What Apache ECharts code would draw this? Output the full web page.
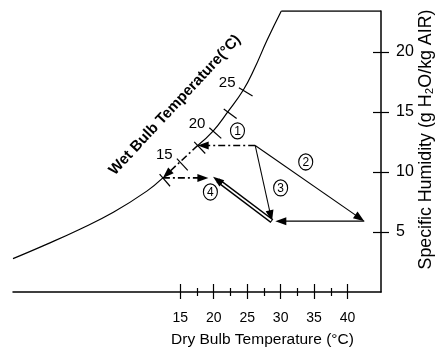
<!DOCTYPE html>
<html><head><meta charset="utf-8">
<script src="https://cdn.jsdelivr.net/npm/echarts@6/dist/echarts.min.js"></script>
<style>html,body{margin:0;padding:0;background:#fff}#c{width:437px;height:347px}</style>
</head><body><div id="c"></div>
<script>
// ---- Saturation curve (dry-bulb °C, specific humidity g/kg)
const satLowT = [-10, -5, 0, 5, 10, 12.4];
const satLowV = [2.78, 3.97, 5.23, 6.64, 8.4, 9.5];
const satMidT = [12.4, 15, 17.6];            // dash-dot part of the curve (process path)
const satMidV = [9.5, 10.8, 12.2];
const satHighT = [17.6, 19.9, 22.1, 24.4, 26, 28, 30.1];
const satHighV = [12.2, 13.4, 15.0, 16.8, 18.5, 21.0, 23.4];
const frameTopT = [30.1, 45];
const frameTopV = [23.4, 23.4];

// ---- Wet-bulb ticks along the curve
const wbTickT = [12.4, 15, 17.6, 19.9, 22.1, 24.4];
const wbTickV = [9.5, 10.8, 12.2, 13.4, 15.0, 16.8];
const wbTickLabels = ['', '15', '', '20', '', '25'];

// ---- Axis ticks
const xMajor = [15, 20, 25, 30, 35, 40];
const xMinor = [17.5, 22.5, 27.5, 32.5, 37.5];
const yMajor = [5, 10, 15, 20];

// ---- Process state points
const ptA = [26.2, 12.2];
const ptF = [17.6, 12.2];
const ptE = [12.4, 9.5];
const ptB = [42.5, 5.9];
const ptC = [28.7, 5.9];
const ptC2 = [29.2, 5.9];
const ptD = [19.9, 9.6];
const ptH = [19.2, 9.5];

const pathFrom  = [ptA, ptA, ptB, ptA, ptC, ptF, ptE];
const pathTo    = [ptF, ptB, ptC2, ptC, ptD, ptE, ptH];
const pathStyle = ['dashdot', 'solid', 'solid', 'solid', 'double', 'dashdot', 'dashdot'];

// ---- Circled step numbers
const stepLabels = ['1', '2', '3', '4'];
const stepT = [23.55, 33.75, 30.0, 19.5];
const stepV = [13.42, 10.83, 8.67, 8.33];

const FONT = 'Liberation Sans, Arial, sans-serif';
const allT = satLowT.concat(satMidT.slice(1), satHighT.slice(1));
const allV = satLowV.concat(satMidV.slice(1), satHighV.slice(1));
function satAt(t) {
  if (t <= allT[0]) return allV[0];
  for (let i = 1; i < allT.length; i++) {
    if (t <= allT[i]) {
      const f = (t - allT[i-1]) / (allT[i] - allT[i-1]);
      return allV[i-1] + f * (allV[i] - allV[i-1]);
    }
  }
  return allV[allV.length - 1];
}
const pairs = (a, b) => a.map((t, i) => [t, b[i]]);

const chart = echarts.init(document.getElementById('c'), null, {renderer: 'canvas'});
const blk = '#000';
const xBase = {type: 'value', min: -10, max: 45, position: 'bottom', splitLine: {show: false},
  axisLine: {show: false, onZero: false}, axisLabel: {show: false}, axisTick: {show: false}};
const yBase = {type: 'value', min: 0, max: 23.4, position: 'right', splitLine: {show: false},
  axisLine: {show: false, onZero: false}, axisLabel: {show: false}, axisTick: {show: false}};
const tickStyle = {color: blk, width: 1.2};

const lineSeries = (data, extra) => Object.assign({
  type: 'line', data: data, showSymbol: false, silent: true, smooth: 0.45,
  lineStyle: {color: blk, width: 1.2}, animation: false
}, extra || {});

chart.setOption({
  animation: false,
  grid: {left: 13, right: 56, top: 11, bottom: 55, containLabel: false, outerBoundsMode: 'none'},
  xAxis: [
    Object.assign({}, xBase, {
      axisLine: {show: true, onZero: false, lineStyle: {color: blk, width: 1.5}},
      axisTick: {show: true, inside: false, length: 7, customValues: xMajor, lineStyle: tickStyle},
      axisLabel: {show: true, customValues: xMajor, margin: 19, color: blk, fontSize: 14, fontFamily: FONT},
      name: 'Dry Bulb Temperature (°C)', nameLocation: 'middle', nameGap: 40,
      nameTextStyle: {color: blk, fontSize: 15.5, fontFamily: FONT, padding: [0, 0, 0, 131]}
    }),
    Object.assign({}, xBase, {axisTick: {show: true, inside: true, length: 8, customValues: xMajor, lineStyle: tickStyle}}),
    Object.assign({}, xBase, {axisTick: {show: true, inside: false, length: 4, customValues: xMinor, lineStyle: tickStyle}}),
    Object.assign({}, xBase, {axisTick: {show: true, inside: true, length: 4, customValues: xMinor, lineStyle: tickStyle}})
  ],
  yAxis: [
    Object.assign({}, yBase, {
      axisLine: {show: true, onZero: false, lineStyle: {color: blk, width: 1.5}},
      axisTick: {show: true, inside: false, length: 8, customValues: yMajor, lineStyle: tickStyle},
      axisLabel: {show: true, customValues: yMajor, margin: 15, color: blk, fontSize: 16, fontFamily: FONT},
      name: 'Specific Humidity (g H\u2082O/kg AIR)', nameLocation: 'middle', nameGap: 36, nameRotate: 90,
      nameMoveOverlap: false,
      nameTextStyle: {color: blk, fontSize: 17.8, fontFamily: FONT, padding: [0, 0, 0, 24]}
    }),
    Object.assign({}, yBase, {axisTick: {show: true, inside: true, length: 8, customValues: yMajor, lineStyle: tickStyle}})
  ],
  series: [
    lineSeries(pairs(satLowT, satLowV)),
    lineSeries(pairs(satHighT, satHighV)),
    lineSeries(pairs(frameTopT, frameTopV), {smooth: false, lineStyle: {color: blk, width: 1.5}}),
    {
      type: 'custom', silent: true, animation: false,
      data: pairs(wbTickT, wbTickV),
      renderItem: function (params, api) {
        const t = api.value(0), v = api.value(1);
        const p = api.coord([t, v]);
        const a = api.coord([t - 0.8, satAt(t - 0.8)]);
        const b = api.coord([t + 0.8, satAt(t + 0.8)]);
        let tx = b[0] - a[0], ty = b[1] - a[1];
        const L = Math.hypot(tx, ty); tx /= L; ty /= L;
        const nx = -ty, ny = tx;
        const ch = [{type: 'line', shape: {x1: p[0] - 5 * nx, y1: p[1] - 5 * ny, x2: p[0] + 11 * nx, y2: p[1] + 11 * ny},
          style: {stroke: blk, lineWidth: 1.2}}];
        const lab = wbTickLabels[params.dataIndex];
        if (lab) ch.push({type: 'text', x: p[0] - 16, y: p[1] - 7,
          style: {text: lab, fill: blk, font: '15px ' + FONT, align: 'center', verticalAlign: 'middle'}});
        return {type: 'group', children: ch};
      }
    },
    {
      type: 'custom', silent: true, animation: false,
      data: pathFrom.map((p, i) => [p[0], p[1], pathTo[i][0], pathTo[i][1]]),
      encode: {x: [0, 2], y: [1, 3]},
      renderItem: function (params, api) {
        const st = pathStyle[params.dataIndex];
        const p1 = api.coord([api.value(0), api.value(1)]);
        const p2 = api.coord([api.value(2), api.value(3)]);
        const dx = p2[0] - p1[0], dy = p2[1] - p1[1];
        const L = Math.hypot(dx, dy), ux = dx / L, uy = dy / L, nx = -uy, ny = ux;
        const ah = 11, aw = 4;
        const base = [p2[0] - ux * ah, p2[1] - uy * ah];
        const ch = [];
        const end = st === 'double' ? [p2[0] - ux * 6, p2[1] - uy * 6] : [p2[0] - ux * 4, p2[1] - uy * 4];
        if (st === 'double') {
          ch.push({type: 'line', shape: {x1: p1[0], y1: p1[1], x2: end[0], y2: end[1]}, style: {stroke: blk, lineWidth: 4.6}});
          ch.push({type: 'line', shape: {x1: p1[0] + ux * 1, y1: p1[1] + uy * 1, x2: base[0], y2: base[1]}, style: {stroke: '#fff', lineWidth: 1.8}});
        } else {
          ch.push({type: 'line', shape: {x1: p1[0], y1: p1[1], x2: end[0], y2: end[1]},
            style: {stroke: blk, lineWidth: st === 'dashdot' ? 1.6 : 1.1, lineDash: st === 'dashdot' ? [7, 3, 2, 3] : null}});
        }
        ch.push({type: 'polygon', shape: {points: [p2, [base[0] + nx * aw, base[1] + ny * aw], [base[0] - nx * aw, base[1] - ny * aw]]},
          style: {fill: blk}});
        return {type: 'group', children: ch};
      }
    },
    {
      type: 'custom', silent: true, animation: false,
      data: pairs(stepT, stepV),
      renderItem: function (params, api) {
        const p = api.coord([api.value(0), api.value(1)]);
        return {type: 'group', children: [
          {type: 'circle', x: p[0], y: p[1], scaleY: 1.15, shape: {cx: 0, cy: 0, r: 7}, style: {fill: '#fff', stroke: blk, lineWidth: 1.1}},
          {type: 'text', x: p[0], y: p[1] + 0.5, style: {text: stepLabels[params.dataIndex], fill: blk, font: '12px ' + FONT, align: 'center', verticalAlign: 'middle'}}
        ]};
      }
    }
  ],
  graphic: [{
    type: 'text', x: 175, y: 105, rotation: 47 * Math.PI / 180, silent: true,
    style: {text: 'Wet Bulb Temperature(°C)', fill: blk, font: 'bold 15px ' + FONT, align: 'center', verticalAlign: 'middle'}
  }]
});
</script></body></html>
